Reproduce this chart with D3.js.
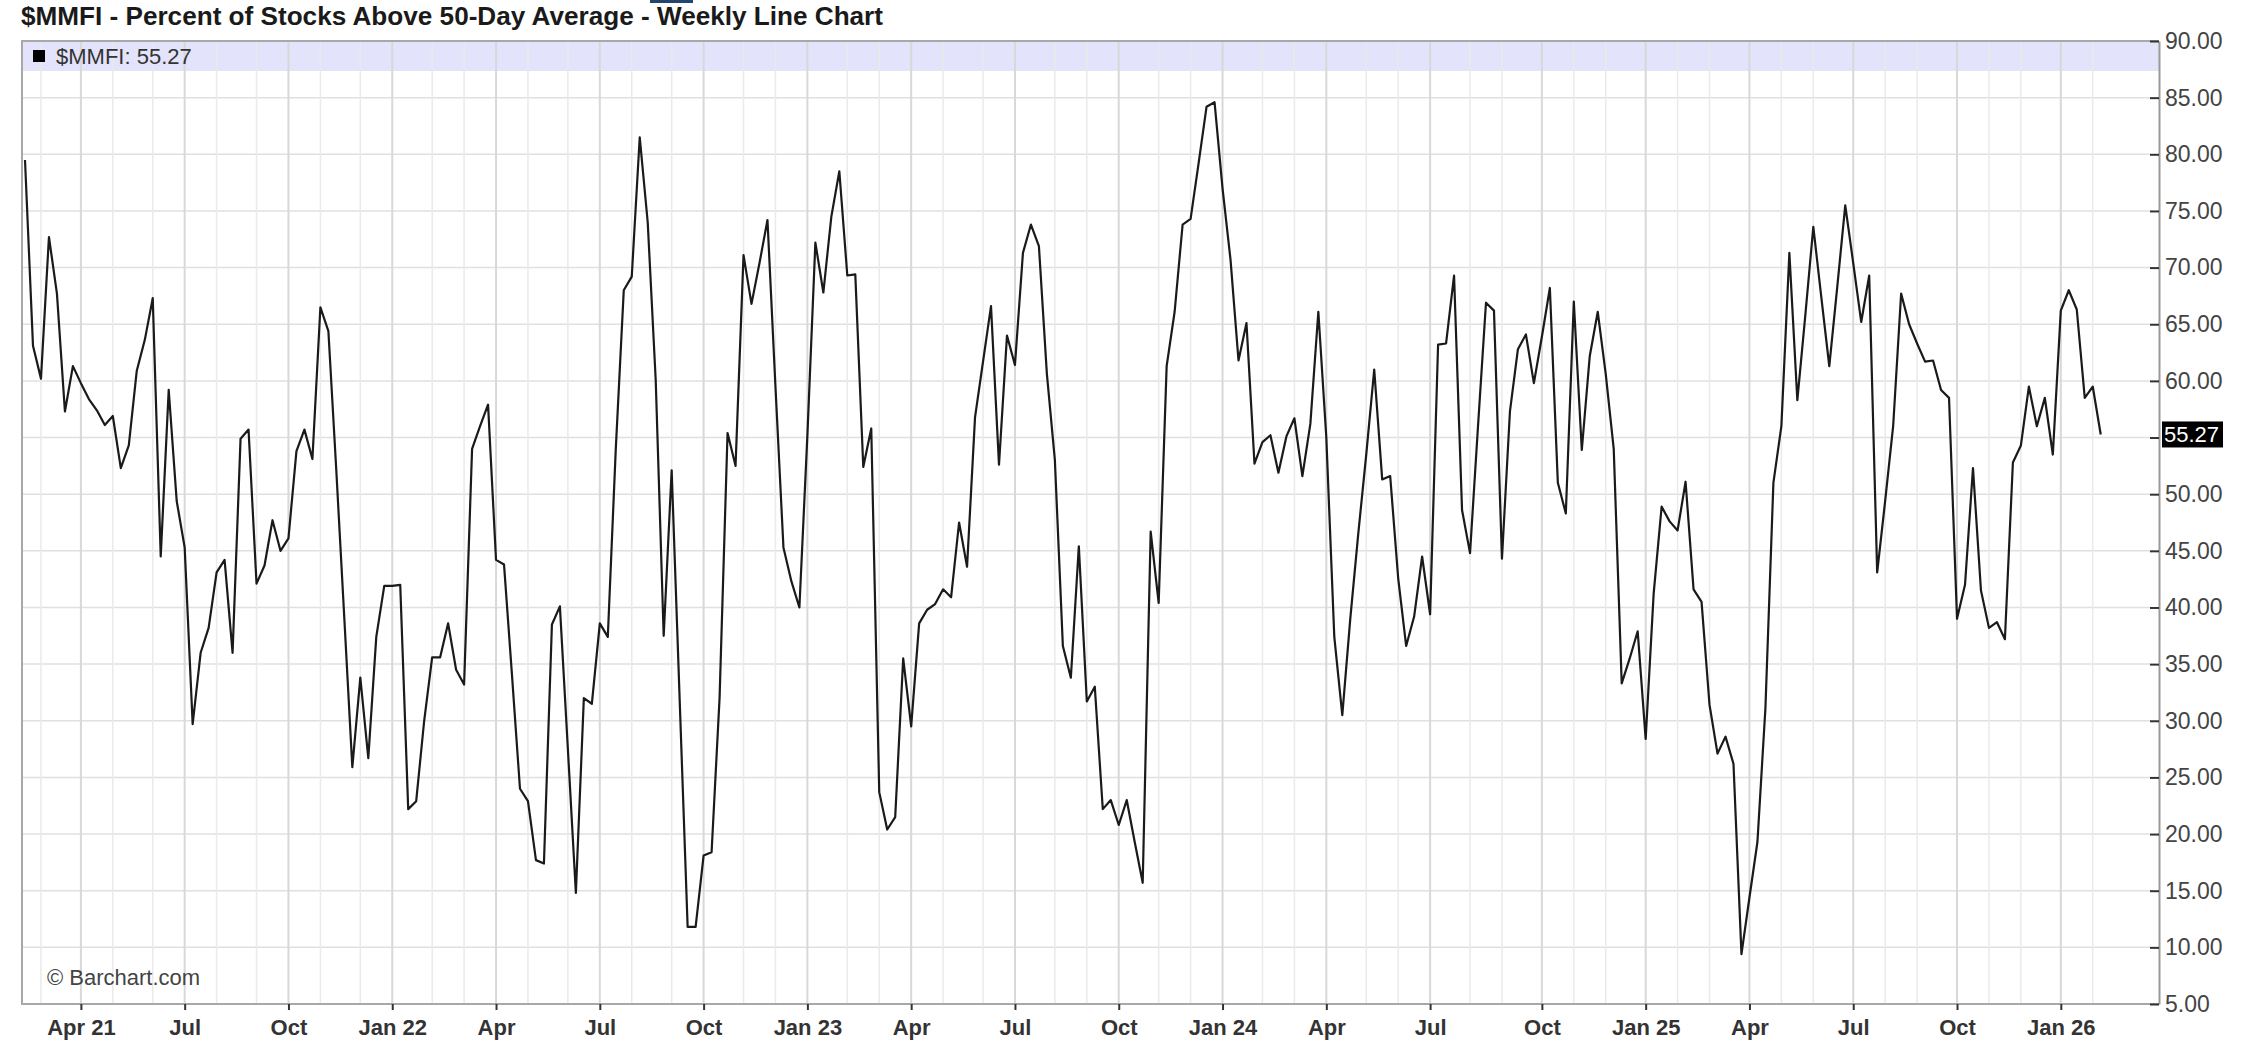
<!DOCTYPE html>
<html><head><meta charset="utf-8">
<script src="https://cdn.jsdelivr.net/npm/d3@7"></script>
<style>body{margin:0;background:#fff} svg{display:block}</style>
</head><body>
<svg id="chart" width="2243" height="1051"></svg>
<script>
// ---- data ----
const firstWeek = [2021, 1, 15]; // Monday, Feb 15 2021 (weekly bars)
const mmfiValues = [
  79.5, 63.1, 60.2, 72.7, 67.7, 57.3, 61.3, 59.8, 58.4, 57.4, 56.1, 56.9, 52.3, 54.3, 60.9, 63.6, 67.3, 44.5, 59.2, 49.4, 45.3, 29.7, 36.0, 38.2, 43.1, 44.2, 36.0,
  54.9, 55.7, 42.1, 43.7, 47.7, 45.0, 46.1, 53.8, 55.7, 53.1, 66.5, 64.4, 52.0, 39.0, 25.9, 33.8, 26.7, 37.4, 41.9, 41.9, 42.0, 22.2, 22.9, 30.0, 35.6, 35.6,
  38.6, 34.5, 33.2, 54.0, 56.0, 57.9, 44.2, 43.8, 34.0, 24.0, 22.9, 17.7, 17.4, 38.5, 40.1, 27.5, 14.8, 32.0, 31.5, 38.6, 37.4, 54.0, 68.0, 69.2, 81.5,
  74.0, 60.1, 37.5, 52.1, 31.9, 11.8, 11.8, 18.1, 18.4, 32.0, 55.4, 52.5, 71.1, 66.8, 70.4, 74.2, 59.5, 45.3, 42.3, 40.0, 55.2, 72.2, 67.8, 74.5, 78.5, 69.3, 69.4, 52.4,
  55.8, 23.7, 20.4, 21.5, 35.5, 29.5, 38.6, 39.8, 40.3, 41.6, 40.9, 47.5, 43.6, 56.8, 61.7, 66.6, 52.6, 64.0, 61.4, 71.3, 73.8, 71.9, 60.6, 53.0, 36.6, 33.8,
  45.4, 31.7, 33.0, 22.2, 23.0, 20.8, 23.0, 19.3, 15.7, 46.7, 40.4, 61.3, 66.1, 73.8, 74.3, 79.2, 84.2, 84.6, 77.0, 70.7, 61.8, 65.1, 52.7, 54.6, 55.2, 51.9,
  55.1, 56.7, 51.6, 56.2, 66.1, 55.0, 37.4, 30.5, 39.0, 46.5, 53.5, 61.0, 51.3, 51.6, 42.6, 36.6, 39.2, 44.5, 39.4, 63.2, 63.3, 69.3, 48.6, 44.8, 56.0, 66.9, 66.2,
  44.3, 57.3, 62.8, 64.1, 59.8, 63.9, 68.2, 51.0, 48.3, 67.0, 53.9, 62.2, 66.1, 60.6, 54.0, 33.3, 35.5, 37.9, 28.4, 41.2, 48.9, 47.6, 46.8, 51.1, 41.6, 40.5,
  31.4, 27.1, 28.6, 26.2, 9.4, 14.4, 19.3, 31.1, 51.0, 56.0, 71.3, 58.3, 65.8, 73.6, 67.4, 61.3, 68.3, 75.5, 70.4, 65.2, 69.3, 43.1, 49.4, 56.0, 67.7, 65.0,
  63.3, 61.7, 61.8, 59.2, 58.5, 39.0, 42.0, 52.3, 41.5, 38.2, 38.7, 37.2, 52.8, 54.3, 59.5, 56.0, 58.5, 53.5, 66.2, 68.0, 66.3, 58.5, 59.5, 55.27
];
const xTickLabels = ["Apr 21","Jul","Oct","Jan 22","Apr","Jul","Oct","Jan 23","Apr","Jul","Oct","Jan 24","Apr","Jul","Oct","Jan 25","Apr","Jul","Oct","Jan 26"];
const yTickValues = [5,10,15,20,25,30,35,40,45,50,55,60,65,70,75,80,85,90];
const titleText = "$MMFI - Percent of Stocks Above 50-Day Average - Weekly Line Chart";
const legendText = "$MMFI: 55.27";
const lastValue = 55.27;

// ---- layout ----
const L = 22, R = 2159, T = 41, B = 1004;
const WEEK = 7 * 864e5;
const FONT = "'Liberation Sans', Arial, sans-serif";
const svg = d3.select("#chart");
const start = new Date(firstWeek[0], firstWeek[1], firstWeek[2]);
const dates = mmfiValues.map((v, i) => d3.timeMonday.offset(start, i));
const data = mmfiValues.map((v, i) => ({date: dates[i], value: v}));
const last = dates[dates.length - 1];

const x = d3.scaleTime()
  .domain([new Date(+start - 0.376 * WEEK), new Date(+last + 7.30 * WEEK)])
  .range([L, R]);
const y = d3.scaleLinear().domain([5, 90]).range([B, T]);

const monthStarts = dates.filter((d, i) => i > 0 && d.getMonth() !== dates[i - 1].getMonth());
const quarterStarts = monthStarts.filter(d => d.getMonth() % 3 === 0);

svg.append("rect").attr("width", 2243).attr("height", 1051).attr("fill", "#fff");

// small top mark
svg.append("rect").attr("x", 650).attr("y", 0).attr("width", 43).attr("height", 3).attr("fill", "#23466e");

// legend band
svg.append("rect").attr("x", L).attr("y", T).attr("width", R - L).attr("height", 30).attr("fill", "#e3e3fb");

// horizontal grid
svg.append("g").selectAll("line").data(yTickValues.filter(v => v > 5 && v < 90)).join("line")
  .attr("x1", L).attr("x2", R - 9)
  .attr("y1", d => y(d)).attr("y2", d => y(d))
  .attr("stroke", "#e0e0e0").attr("stroke-width", 1.5);

// vertical grid (monthly, quarterly darker)
svg.append("g").selectAll("line").data(monthStarts).join("line")
  .attr("x1", d => x(d)).attr("x2", d => x(d))
  .attr("y1", T).attr("y2", B)
  .attr("stroke", d => d.getMonth() % 3 === 0 ? "#d8d8d8" : "#eaeaea")
  .attr("stroke-width", d => d.getMonth() % 3 === 0 ? 2 : 1.5);

// frame
svg.append("path")
  .attr("d", `M${R},${T}H${L}V${B}H${R}`)
  .attr("fill", "none").attr("stroke", "#a8a8a8").attr("stroke-width", 2);

// legend
svg.append("rect").attr("x", 33).attr("y", 50).attr("width", 12).attr("height", 12).attr("fill", "#000");
svg.append("text").attr("x", 56).attr("y", 64).text(legendText)
  .attr("font-family", FONT).attr("font-size", 22).attr("fill", "#333");

// title
svg.append("text").attr("x", 21).attr("y", 25).text(titleText)
  .attr("font-family", FONT).attr("font-weight", "bold")
  .attr("font-size", 26).attr("fill", "#1a1a1a")
  .attr("textLength", 862).attr("lengthAdjust", "spacingAndGlyphs");

// line
const line = d3.line().x(d => x(d.date)).y(d => y(d.value));
svg.append("path").datum(data).attr("d", line)
  .attr("fill", "none").attr("stroke", "#1a1a1a").attr("stroke-width", 2.2)
  .attr("stroke-linejoin", "round");

// right axis
const yAxis = d3.axisRight(y).tickValues(yTickValues).tickFormat(d3.format(".2f"))
  .tickSizeInner(-9).tickSizeOuter(0).tickPadding(6);
const gy = svg.append("g").attr("transform", `translate(${R},0)`).call(yAxis);
gy.select(".domain").attr("stroke", "#999").attr("stroke-width", 2);
gy.selectAll(".tick line").attr("stroke", "#333").attr("stroke-width", 2);
gy.selectAll(".tick text").attr("font-family", FONT)
  .attr("font-size", 23).attr("fill", "#444");

// bottom axis
const xAxis = d3.axisBottom(x).tickValues(quarterStarts)
  .tickFormat((d, i) => xTickLabels[i]).tickSizeInner(6).tickSizeOuter(0).tickPadding(9);
const gx = svg.append("g").attr("transform", `translate(0,${B})`).call(xAxis);
gx.select(".domain").remove();
gx.selectAll(".tick line").attr("stroke", "#333").attr("stroke-width", 2);
gx.selectAll(".tick text").attr("font-family", FONT)
  .attr("font-size", 22).attr("font-weight", "bold").attr("fill", "#333");

// last value tag
const ly = y(lastValue);
svg.append("rect").attr("x", R + 3).attr("y", ly - 13).attr("width", 61).attr("height", 26).attr("fill", "#000");
svg.append("text").attr("x", R + 5).attr("y", ly).attr("dy", "0.35em").text(lastValue.toFixed(2))
  .attr("font-family", FONT).attr("font-size", 22).attr("fill", "#fff");

// watermark
svg.append("text").attr("x", 47).attr("y", 985).text("© Barchart.com")
  .attr("font-family", FONT).attr("font-size", 22).attr("fill", "#444");
</script>
</body></html>
